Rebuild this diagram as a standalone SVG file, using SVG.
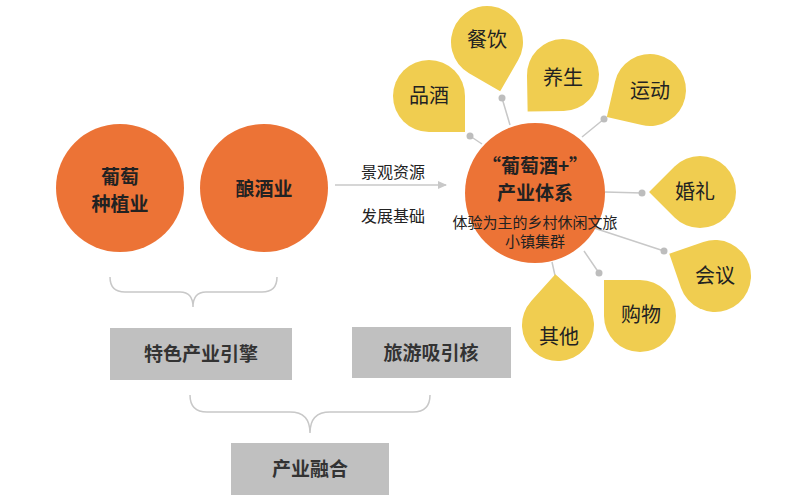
<svg xmlns="http://www.w3.org/2000/svg" width="800" height="504" viewBox="0 0 800 504">
<style>
text{font-family:"Noto Sans CJK SC","Liberation Sans",sans-serif;text-anchor:middle;fill:#222}
.big{fill:#ec7336}
.pet{fill:#f0cd50}
.pl{font-size:20px}
.b{font-weight:bold;font-size:19px}
.box{fill:#c0c0c0}
.bt{font-size:19px;font-weight:bold;fill:#333}
.ln{stroke:#c8c8c8;stroke-width:1.5;fill:none}
.dot{fill:#bdbdbd}
</style>
<defs>
<path id="tear" d="M-36,-36 L0,-36 A36,36 0 1 1 -36,0 Z"/>
<marker id="ar" markerWidth="10" markerHeight="10" refX="8" refY="5" orient="auto" markerUnits="userSpaceOnUse"><path d="M0,1 L9,5 L0,9 Z" fill="#c8c8c8"/></marker>
</defs>
<g id="connectors">
<path class="ln" d="M335,185 L446,185" marker-end="url(#ar)"/>
<path class="ln" d="M470,136 L482,144 M502,98 L510,125 M604,119 L582,137 M642,193 L605,192 M664,251 L594,228 M599,273 L584,251 M556,280 L552,262"/>
<circle class="dot" cx="470" cy="136" r="3.5"/><circle class="dot" cx="502" cy="98" r="3.5"/>
<circle class="dot" cx="604" cy="119" r="3.5"/><circle class="dot" cx="642" cy="193" r="3.5"/>
<circle class="dot" cx="664" cy="251" r="3.5"/><circle class="dot" cx="599" cy="273" r="3.5"/>
<circle class="dot" cx="556" cy="280" r="3.5"/>
<path class="ln" d="M110,277 Q110,292 125,292 L180,292 Q193,292 193,307 Q193,292 206,292 L262,292 Q277,292 277,277"/>
<path class="ln" d="M190,395 Q190,412 207,412 L290,412 Q310,412 310,433 Q310,412 330,412 L413,412 Q430,412 430,395"/>
</g>
<g id="n1"><circle class="big" cx="120" cy="188" r="64"/><text class="b" x="120" y="184">葡萄</text><text class="b" x="120" y="211">种植业</text></g>
<g id="n2"><circle class="big" cx="264" cy="188" r="64"/><text class="b" x="264" y="196">酿酒业</text></g>
<g id="lbl"><text x="393" y="178" font-size="16" fill="#333">景观资源</text><text x="393" y="222" font-size="16" fill="#333">发展基础</text></g>
<g id="center"><circle class="big" cx="535" cy="193" r="70"/>
<text class="b" x="535" y="173">“葡萄酒+”</text><text class="b" x="535" y="200">产业体系</text>
<text x="535" y="228" font-size="15" fill="#333">体验为主的乡村休闲文旅</text><text x="535" y="247" font-size="15" fill="#333">小镇集群</text></g>
<g id="p1"><use href="#tear" class="pet" transform="translate(429,96) rotate(180)"/><text class="pl" x="429" y="103">品酒</text></g>
<g id="p2"><use href="#tear" class="pet" transform="translate(487,42) rotate(210)"/><text class="pl" x="487" y="47">餐饮</text></g>
<g id="p3"><use href="#tear" class="pet" transform="translate(563,75) rotate(269)"/><text class="pl" x="563" y="85">养生</text></g>
<g id="p4"><use href="#tear" class="pet" transform="translate(650,90) rotate(283)"/><text class="pl" x="650" y="98">运动</text></g>
<g id="p5"><use href="#tear" class="pet" transform="translate(700,192) rotate(315)"/><text class="pl" x="695" y="199">婚礼</text></g>
<g id="p6"><use href="#tear" class="pet" transform="translate(715,276) rotate(341)"/><text class="pl" x="715" y="283">会议</text></g>
<g id="p7"><use href="#tear" class="pet" transform="translate(640,316) rotate(0)"/><text class="pl" x="641" y="322">购物</text></g>
<g id="p8"><use href="#tear" class="pet" transform="translate(558,325) rotate(42)"/><text class="pl" x="559" y="344">其他</text></g>
<g id="b1"><rect class="box" x="110" y="328" width="182" height="52"/><text class="bt" x="201" y="361">特色产业引擎</text></g>
<g id="b2"><rect class="box" x="352" y="327" width="159" height="51"/><text class="bt" x="431" y="360">旅游吸引核</text></g>
<g id="b3"><rect class="box" x="231" y="443" width="158" height="52"/><text class="bt" x="310" y="476">产业融合</text></g>
</svg>
